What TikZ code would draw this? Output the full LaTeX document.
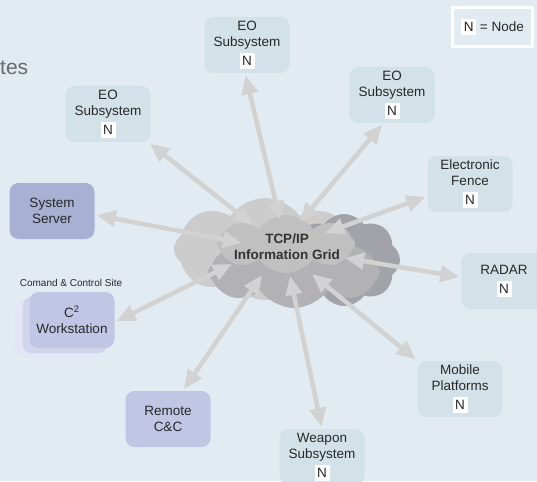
\documentclass[tikz,border=0pt]{standalone}
\usepackage{fontspec}
\setmainfont{Liberation Sans}
\usetikzlibrary{shapes.symbols,arrows.meta}
\definecolor{bgblue}{RGB}{225,235,241}
\definecolor{boxblue}{RGB}{211,225,232}
\definecolor{servblue}{RGB}{168,176,212}
\definecolor{siteblue}{RGB}{192,198,228}
\definecolor{shadeA}{RGB}{210,212,236}
\definecolor{shadeB}{RGB}{228,229,245}
\definecolor{linkgray}{RGB}{210,210,210}
\definecolor{txtgray}{RGB}{40,40,40}
\definecolor{cloudA}{RGB}{204,204,204}
\definecolor{cloudB}{RGB}{162,163,169}
\definecolor{cloudC}{RGB}{178,178,181}
\definecolor{cloudD}{RGB}{192,192,192}
\newcommand{\nbox}{{\setlength{\fboxsep}{0pt}\colorbox{white}{\makebox[15pt]{\rule[-3pt]{0pt}{16pt}N}}}}

\begin{document}
\begin{tikzpicture}[x=1pt, y=-1pt]
    \tikzstyle{unit}=[rectangle, rounded corners=9pt, minimum width=85pt, minimum height=56pt, inner sep=0pt, align=center, font=\fontsize{13.5}{16}\selectfont, text=txtgray]
    \tikzstyle{sensor}=[unit, fill=boxblue]
    \tikzstyle{site}=[unit, fill=siteblue]
    \tikzstyle{puff}=[cloud, cloud puffs=8, cloud puff arc=110, cloud ignores aspect, inner sep=0pt]
    \tikzstyle{link}=[draw=linkgray, line width=4.5pt, {Triangle[length=19pt,width=16pt]}-{Triangle[length=19pt,width=16pt]}, shorten >=2pt]

    % background
    \fill[bgblue] (0,0) rectangle (537,481);
    \useasboundingbox (0,0) rectangle (537,481);
    \node[anchor=base west, inner sep=0pt, text=black!58, font=\fontsize{21}{24}\selectfont] (title) at (0,75) {tes};

    % legend
    \node[draw=white, line width=2.5pt, fill=bgblue, minimum width=80pt, minimum height=39pt, inner sep=0pt, font=\fontsize{13.5}{16}\selectfont, text=txtgray] (legend) at (492.5,27) {\nbox{} = Node};

    % the nodes
    \node[sensor] (eoTop) at (247,45) {EO\\Subsystem\\[3pt]\nbox};
    \node[sensor] (eoLeft) at (108,114) {EO\\Subsystem\\[3pt]\nbox};
    \node[sensor] (eoRight) at (392,95) {EO\\Subsystem\\[3pt]\nbox};
    \node[sensor] (fence) at (470,184) {Electronic\\Fence\\[3pt]\nbox};
    \node[sensor] (radar) at (504,281) {RADAR\\[3pt]\nbox};
    \node[sensor] (mobile) at (460,389) {Mobile\\Platforms\\[3pt]\nbox};
    \node[sensor] (weapon) at (322,457) {Weapon\\Subsystem\\[3pt]\nbox};
    \node[unit, fill=servblue] (server) at (52,211) {System\\Server};
    \node[site] (remote) at (168,419) {Remote\\C\&C};
    % command site with its stacked cards
    \node[unit, fill=shadeB] (ws-2) at (58,329) {};
    \node[unit, fill=shadeA] (ws-1) at (65,325) {};
    \node[site] (ws) at (72,320) {C\textsuperscript{2}\\Workstation};
    \node[font=\fontsize{10}{12}\selectfont, text=txtgray, inner sep=0pt, anchor=base] (site) at (71,286) {Comand \& Control Site};

    % the grid cloud
    \node[puff, fill=cloudA, minimum width=182pt, minimum height=102pt] (cl-1) at (265,249) {};
    \node[puff, fill=cloudB, minimum width=112pt, minimum height=92pt] (cl-2) at (344,260) {};
    \node[puff, fill=cloudC, minimum width=172pt, minimum height=72pt] (cl-3) at (294,272) {};
    \node[puff, fill=cloudD, minimum width=138pt, minimum height=58pt] (cl-4) at (286,244) {};

    \coordinate (c-top) at (280,220);
    \coordinate (c-left) at (253,225);
    \coordinate (c-right) at (300,222);
    \coordinate (c-fence) at (325,233);
    \coordinate (c-server) at (242,243);
    \coordinate (c-radar) at (345,258);
    \coordinate (c-mobile) at (312,274);
    \coordinate (c-weapon) at (290,276);
    \coordinate (c-remote) at (262,275);
    \coordinate (c-ws) at (232,264);

    \path (c-top) edge[link] (eoTop.-94);
    \path (c-left) edge[link] (eoLeft.-35);
    \path (c-right) edge[link] (eoRight.-107);
    \path (c-fence) edge[link] (fence.196);
    \path (c-radar) edge[link] (radar.175);
    \path (c-mobile) edge[link] (mobile.north west);
    \path (c-weapon) edge[link] (weapon.north);
    \path (c-remote) edge[link] (remote.62);
    \path (c-ws) edge[link] (ws.-3);
    \path (c-server) edge[link] (server.-5);

    \node[align=center, font=\fontsize{13.5}{16}\selectfont\bfseries, text=black!80] (grid) at (287,247) {TCP/IP\\Information Grid};
\end{tikzpicture}
\end{document}
